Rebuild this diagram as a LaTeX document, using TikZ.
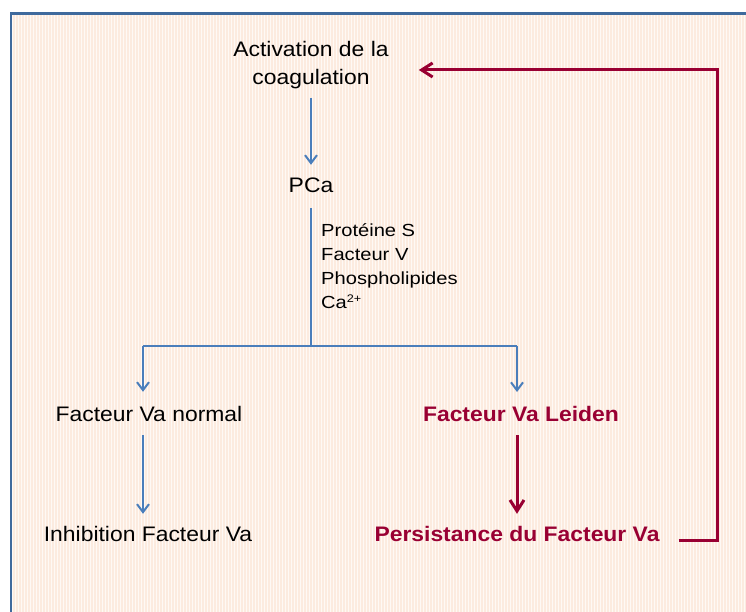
\documentclass[tikz,border=0pt]{standalone}
\usepackage{fontspec}
\usetikzlibrary{arrows.meta}
\newfontfamily\mainf{Liberation Sans}[FakeStretch=1.09]
\newfontfamily\sidef{Liberation Sans}[FakeStretch=1.15]
\definecolor{framecol}{HTML}{3F6A9D}
\definecolor{bluecol}{HTML}{4A7EBB}
\definecolor{redcol}{HTML}{990033}
\definecolor{peach}{HTML}{FCEBDF}
\tikzset{
  lbl/.style={inner sep=0pt, font=\mainf\fontsize{21}{28}\selectfont, text=black},
  one/.style={lbl, text height=15pt, text depth=5pt, anchor=base},
  boldred/.style={one, font=\mainf\bfseries\fontsize{21}{28}\selectfont, text=redcol},
  sidetxt/.style={inner sep=0pt, font=\sidef\fontsize{17.5}{24.3}\selectfont, align=left, text=black},
  bline/.style={draw=bluecol, line width=2pt},
  barrow/.style={bline, -{Straight Barb[length=8pt,width=12pt]}},
  rarrow/.style={draw=redcol, line width=3pt, -{Straight Barb[length=11pt,width=14pt]}},
}
\begin{document}
\begin{tikzpicture}[x=1pt,y=-1pt]
\useasboundingbox (0,0) rectangle (746,612);
\clip (0,0) rectangle (746,612);
% background and frame
\fill[peach] (11,13.5) rectangle (760,630);
\begin{scope}[shift={(0.5,0.5)}]
\draw[white!70!peach, line width=1pt] (12,15) grid[step=3] (746,612);
\end{scope}
\draw[framecol, line width=2.6pt] (11,630) -- (11,13.5) -- (760,13.5);
% nodes
\node[lbl, align=center, anchor=south] (act) at (311,89.4) {Activation de la\\coagulation};
\node[one] (pca) at (311,193) {PCa};
\node[sidetxt, anchor=north west] (cof) at (321,223) {Protéine S\\Facteur V\\Phospholipides\\Ca\raisebox{6pt}{\fontsize{11}{11}\selectfont 2+}};
\node[one] (fvn) at (149,421.5) {Facteur Va normal};
\node[boldred] (fvl) at (521,421.7) {Facteur Va Leiden};
\node[one] (inh) at (148,541.7) {Inhibition Facteur Va};
\node[boldred] (pers) at (517,541.7) {Persistance du Facteur Va};
% coordinates
\coordinate (split) at (311,346);
\coordinate (lc) at (143,346);
\coordinate (rc) at (517,346);
\coordinate (c1) at (717,540);
\coordinate (c2) at (717,70);
% connectors
\draw[barrow, shorten <=8.6pt, shorten >=13pt] (act.south) -- (pca.north);
\draw[bline, shorten <=10pt] (pca.south) -- (split);
\draw[bline] (lc) -- (rc);
\draw[barrow, shorten >=14.5pt] (lc) -- (fvn.north -| lc);
\draw[barrow, shorten >=14.5pt] (rc) -- (fvl.north -| rc);
\draw[barrow, shorten <=8.5pt, shorten >=12.7pt] (fvn.south -| lc) -- (inh.north -| lc);
\draw[rarrow, shorten <=8.3pt, shorten >=12.7pt] (fvl.south -| rc) -- (pers.north -| rc);
\draw[rarrow, shorten <=19pt, shorten >=30pt] (pers.east |- c1) -- (c1) -- (c2) -- (act.east |- c2);
\end{tikzpicture}
\end{document}
